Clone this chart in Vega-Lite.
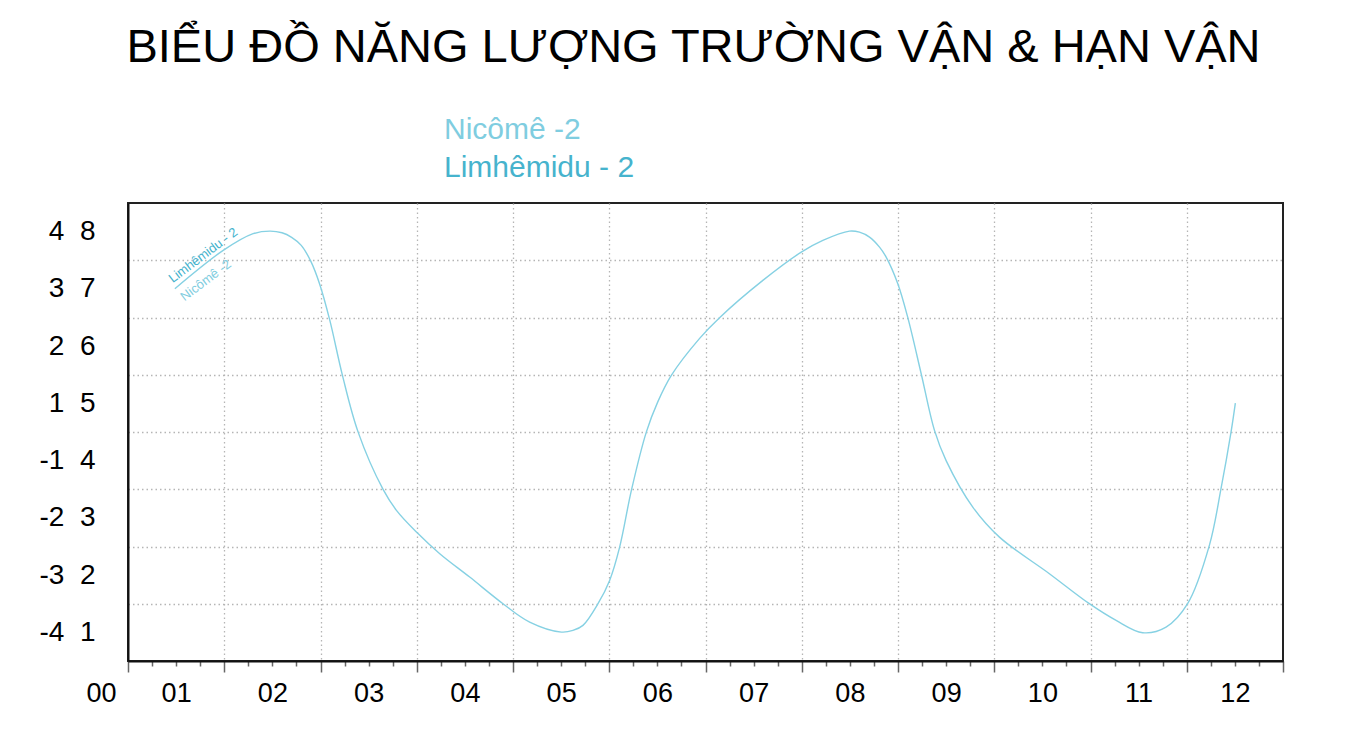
{
  "$schema": "https://vega.github.io/schema/vega-lite/v6.json",
  "width": 1155,
  "height": 458,
  "autosize": "none",
  "padding": {"left": 128, "top": 203, "right": 89, "bottom": 72},
  "background": "white",
  "config": {
    "font": "Liberation Sans",
    "view": {"stroke": "#222", "strokeWidth": 2}
  },
  "title": {
    "text": "BIỂU ĐỒ NĂNG LƯỢNG TRƯỜNG VẬN & HẠN VẬN",
    "font": "Liberation Sans",
    "fontSize": 47,
    "fontWeight": "normal",
    "color": "black",
    "anchor": "middle",
    "frame": "group",
    "offset": 43,
    "dx": -12
  },
  "datasets": {
    "curve": [
      {"x": 0.487, "y": 6.503}, {"x": 0.989, "y": 7.172}, {"x": 1.3, "y": 7.464},
      {"x": 1.474, "y": 7.509}, {"x": 1.6, "y": 7.48}, {"x": 1.7, "y": 7.4},
      {"x": 1.8, "y": 7.26}, {"x": 1.9, "y": 6.98}, {"x": 1.99, "y": 6.59},
      {"x": 2.097, "y": 5.949}, {"x": 2.228, "y": 4.989}, {"x": 2.391, "y": 3.998},
      {"x": 2.65, "y": 2.997}, {"x": 2.789, "y": 2.631}, {"x": 2.997, "y": 2.252},
      {"x": 3.239, "y": 1.874}, {"x": 3.55, "y": 1.466}, {"x": 3.896, "y": 1.001},
      {"x": 4.173, "y": 0.68}, {"x": 4.503, "y": 0.505}, {"x": 4.623, "y": 0.534},
      {"x": 4.727, "y": 0.622}, {"x": 4.883, "y": 1.001}, {"x": 5.004, "y": 1.408},
      {"x": 5.108, "y": 1.99}, {"x": 5.23, "y": 2.98}, {"x": 5.385, "y": 3.998},
      {"x": 5.503, "y": 4.522}, {"x": 5.645, "y": 4.989}, {"x": 5.939, "y": 5.635},
      {"x": 6.146, "y": 5.997}, {"x": 6.596, "y": 6.648}, {"x": 6.995, "y": 7.142},
      {"x": 7.219, "y": 7.347}, {"x": 7.496, "y": 7.509}, {"x": 7.6, "y": 7.49},
      {"x": 7.704, "y": 7.404}, {"x": 7.808, "y": 7.229}, {"x": 7.877, "y": 7.055},
      {"x": 7.998, "y": 6.59}, {"x": 8.102, "y": 5.997}, {"x": 8.241, "y": 5.018},
      {"x": 8.379, "y": 4.028}, {"x": 8.5, "y": 3.5}, {"x": 8.777, "y": 2.688},
      {"x": 9.054, "y": 2.164}, {"x": 9.573, "y": 1.525}, {"x": 9.988, "y": 1.001},
      {"x": 10.266, "y": 0.709}, {"x": 10.542, "y": 0.494}, {"x": 10.785, "y": 0.592},
      {"x": 11.009, "y": 1.001}, {"x": 11.235, "y": 2.019}, {"x": 11.356, "y": 3.01},
      {"x": 11.46, "y": 3.998}, {"x": 11.505, "y": 4.505}
    ],
    "notes": [
      {"x": 0.781, "y": 7.085, "label": "Limhêmidu - 2"},
      {"x": 0.809, "y": 6.648, "label": "Nicômê -2"}
    ]
  },
  "encoding": {
    "x": {
      "field": "x",
      "type": "quantitative",
      "scale": {"domain": [0, 12], "nice": false, "zero": false},
      "axis": {
        "values": [0, 0.25, 0.5, 0.75, 1, 1.25, 1.5, 1.75, 2, 2.25, 2.5, 2.75, 3, 3.25, 3.5, 3.75, 4, 4.25, 4.5, 4.75, 5, 5.25, 5.5, 5.75, 6, 6.25, 6.5, 6.75, 7, 7.25, 7.5, 7.75, 8, 8.25, 8.5, 8.75, 9, 9.25, 9.5, 9.75, 10, 10.25, 10.5, 10.75, 11, 11.25, 11.5, 11.75, 12],
        "labelExpr": "abs(datum.value % 1 - 0.5) < 0.01 ? (ceil(datum.value) < 10 ? '0' : '') + ceil(datum.value) : ''",
        "labelFontSize": 27,
        "labelColor": "black",
        "labelPadding": 14,
        "labelOverlap": false,
        "labelFlush": false,
        "labelBaseline": "top",
        "tickSize": {"condition": {"test": "datum.value % 1 == 0", "value": 11}, "value": 5},
        "tickColor": "#666",
        "tickWidth": 1.5,
        "domainColor": "#111",
        "domainWidth": 2,
        "grid": true,
        "gridColor": "#b5b5b5",
        "gridDash": [1.5, 3],
        "gridWidth": 1.3,
        "gridOpacity": {"condition": {"test": "datum.value % 1 == 0 && datum.value > 0 && datum.value < 12", "value": 1}, "value": 0},
        "title": "00",
        "titleFontSize": 27,
        "titleFontWeight": "normal",
        "titleColor": "black",
        "titleAnchor": "start",
        "titleAngle": 0,
        "titleAlign": "center",
        "titleBaseline": "top",
        "titleX": -27,
        "titleY": 19
      }
    },
    "y": {
      "field": "y",
      "type": "quantitative",
      "scale": {"domain": [0, 8], "nice": false, "zero": false},
      "axis": {
        "values": [0, 0.5, 1, 1.5, 2, 2.5, 3, 3.5, 4, 4.5, 5, 5.5, 6, 6.5, 7, 7.5, 8],
        "labelExpr": "datum.value % 1 == 0 ? '' : (floor(datum.value) >= 4 ? floor(datum.value) - 3 : floor(datum.value) - 4) + '\u00a0\u00a0' + (floor(datum.value) + 1)",
        "labelFontSize": 28,
        "labelColor": "black",
        "labelPadding": 33,
        "labelOverlap": false,
        "labelFlush": false,
        "labelBound": false,
        "tickSize": 0,
        "tickOpacity": 0,
        "domainColor": "#111",
        "domainWidth": 2,
        "grid": true,
        "gridColor": "#b5b5b5",
        "gridDash": [1.5, 3],
        "gridWidth": 1.3,
        "gridOpacity": {"condition": {"test": "datum.value % 1 == 0 && datum.value > 0 && datum.value < 8", "value": 1}, "value": 0},
        "title": null
      }
    }
  },
  "layer": [
    {
      "data": {"name": "curve"},
      "mark": {"type": "line", "interpolate": "catmull-rom", "color": "#86d1e3", "strokeWidth": 1.4}
    },
    {
      "data": {"name": "notes"},
      "mark": {"type": "text", "angle": -37, "fontSize": 13, "align": "center", "baseline": "middle"},
      "encoding": {
        "text": {"field": "label"},
        "color": {
          "field": "label",
          "type": "nominal",
          "scale": {"domain": ["Nicômê -2", "Limhêmidu - 2"], "range": ["#7fcde0", "#46b3cd"]},
          "legend": {
            "orient": "none",
            "legendX": 286,
            "legendY": -88,
            "title": null,
            "padding": 0,
            "labelFontSize": 30,
            "labelLimit": 500,
            "labelOffset": 0,
            "symbolSize": 0,
            "symbolOpacity": 0,
            "symbolStrokeWidth": 0,
            "rowPadding": 8,
            "encode": {"labels": {"update": {"fill": {"scale": "color", "field": "value"}}}}
          }
        }
      }
    }
  ]
}
